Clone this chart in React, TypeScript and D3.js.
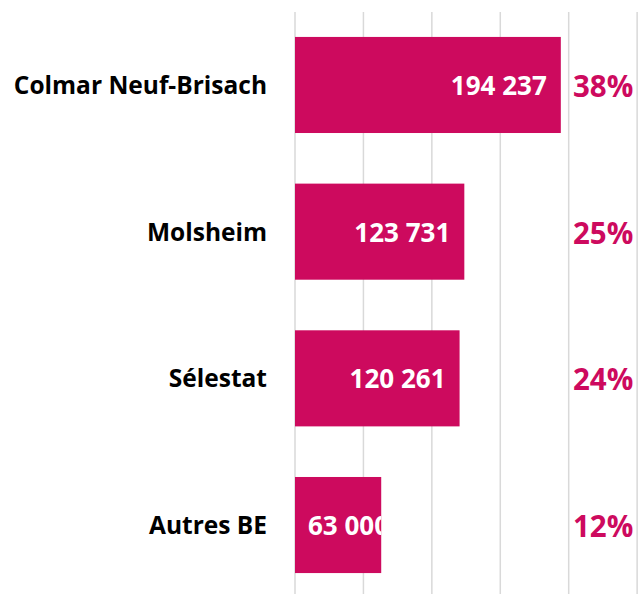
import React, { useEffect, useRef } from "react";
import * as d3 from "d3";

const categories = ["Colmar Neuf-Brisach", "Molsheim", "Sélestat", "Autres BE"];
const values = [194237, 123731, 120261, 63000];
const valueLabels = ["194 237", "123 731", "120 261", "63 000"];
const percents = ["38%", "25%", "24%", "12%"];
const gridTicks = [0, 50000, 100000, 150000, 200000, 250000];

const W = 641;
const H = 594;
const COLOR = "#cd0a5e";
const FONT = "'Open Sans', sans-serif";

export default function App() {
  const ref = useRef<SVGSVGElement>(null);

  useEffect(() => {
    const svg = d3.select(ref.current);
    svg.selectAll("*").remove();

    const x = d3.scaleLinear().domain([0, 200000]).range([295, 568.7]);
    const y = d3.scaleBand().domain(categories).range([12, 598]).paddingInner(0.345).paddingOuter(0.17);

    // grid
    svg.append("g")
      .selectAll("line")
      .data(gridTicks)
      .join("line")
      .attr("x1", (d) => x(d))
      .attr("x2", (d) => x(d))
      .attr("y1", 12)
      .attr("y2", H)
      .attr("stroke", "#d9d9d9")
      .attr("stroke-width", 1.5);

    const defs = svg.append("defs");
    categories.forEach((c, i) => {
      defs.append("clipPath").attr("id", "clip" + i)
        .append("rect")
        .attr("x", x(0))
        .attr("y", y(c)!)
        .attr("width", x(values[i]) - x(0))
        .attr("height", y.bandwidth());
    });

    // bars
    svg.append("g")
      .selectAll("rect")
      .data(categories)
      .join("rect")
      .attr("x", x(0))
      .attr("y", (d) => y(d)!)
      .attr("width", (d, i) => x(values[i]) - x(0))
      .attr("height", y.bandwidth())
      .attr("fill", COLOR);

    // value labels
    categories.forEach((c, i) => {
      const cy = y(c)! + y.bandwidth() / 2;
      const t = svg.append("text")
        .attr("clip-path", `url(#clip${i})`)
        .attr("y", cy + 10)
        .attr("fill", "#fff")
        .attr("font-family", FONT)
        .attr("font-weight", 700)
        .attr("font-size", 26)
        .text(valueLabels[i]);
      const w = (t.node() as SVGTextElement).getComputedTextLength();
      const sx = Math.max(x(values[i]) - 14 - w, x(0) + 13);
      t.attr("x", sx);
    });

    // category labels
    svg.append("g")
      .selectAll("text")
      .data(categories)
      .join("text")
      .attr("x", 267)
      .attr("y", (d) => y(d)! + y.bandwidth() / 2 + 9)
      .attr("text-anchor", "end")
      .attr("font-family", FONT)
      .attr("font-weight", 700)
      .attr("font-size", 24.5)
      .attr("fill", "#000")
      .text((d) => d);

    // percent labels
    svg.append("g")
      .selectAll("text")
      .data(categories)
      .join("text")
      .attr("x", 573)
      .attr("y", (d) => y(d)! + y.bandwidth() / 2 + 12)
      .attr("font-family", FONT)
      .attr("font-weight", 700)
      .attr("font-size", 29.5)
      .attr("fill", COLOR)
      .text((d, i) => percents[i]);
  }, []);

  return (
    <svg
      ref={ref}
      width={W}
      height={H}
      style={{ position: "absolute", left: 0, top: 0, background: "#fff" }}
    />
  );
}
